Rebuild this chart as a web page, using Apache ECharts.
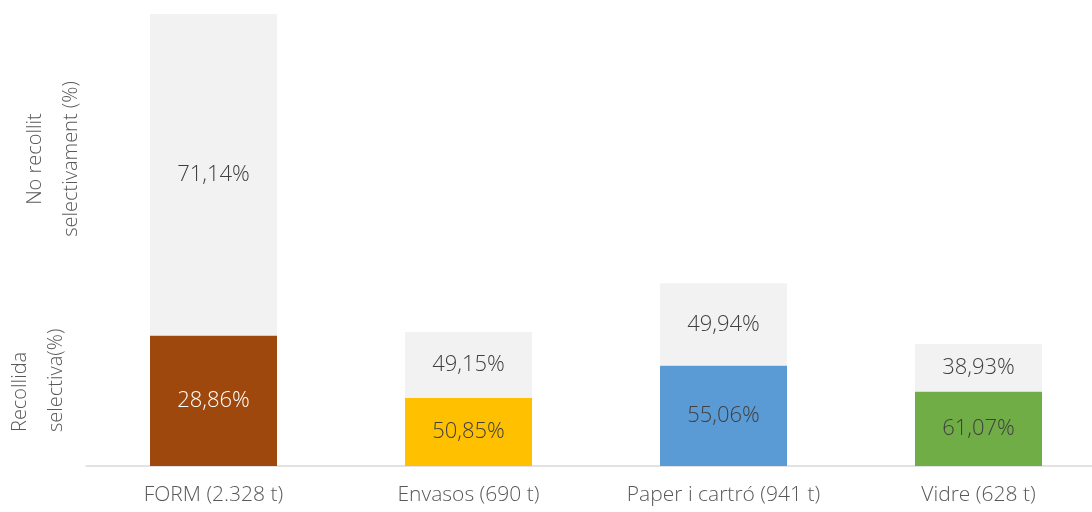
<!DOCTYPE html>
<html>
<head>
<meta charset="utf-8">
<script src="https://cdn.jsdelivr.net/npm/echarts@6/dist/echarts.min.js"></script>
<style>html,body{margin:0;padding:0;background:#fff}#c{width:1092px;height:512px}</style>
</head>
<body>
<div id="c"></div>
<script>
var categories = ['FORM (2.328 t)', 'Envasos (690 t)', 'Paper i cartró (941 t)', 'Vidre (628 t)'];
var totals = [2328, 690, 941, 628];
var collectedPct = [28.86, 50.85, 55.06, 61.07];
var notCollectedPct = [71.14, 49.15, 49.94, 38.93];
var barColors = ['#9E480E', '#FFC000', '#5B9BD5', '#70AD47'];
var collectedLabelColors = ['#FFFFFF', '#404040', '#404040', '#404040'];

var FONT = 'Open Sans';
var WEIGHT = 300;
function fmt(v) { return v.toFixed(2).replace('.', ',') + '%'; }

var collectedData = totals.map(function (t, i) {
  return {
    value: t * collectedPct[i] / 100,
    itemStyle: { color: barColors[i] },
    label: { color: collectedLabelColors[i] }
  };
});
// grey segment fills the rest of each total
var notCollectedData = totals.map(function (t, i) {
  return { value: t - t * collectedPct[i] / 100 };
});

var chart = echarts.init(document.getElementById('c'));
chart.setOption({
  animation: false,
  grid: { left: 86, right: -14, top: 14, bottom: 46, outerBoundsMode: 'none', containLabel: false },
  xAxis: {
    type: 'category',
    data: categories,
    axisLine: { lineStyle: { color: '#D9D9D9', width: 1.5 } },
    axisTick: { show: false },
    axisLabel: { color: '#595959', fontSize: 21, fontFamily: FONT, fontWeight: WEIGHT, margin: 19 }
  },
  yAxis: {
    type: 'value',
    min: 0,
    max: Math.max.apply(null, totals),
    show: false,
    splitLine: { show: false }
  },
  series: [
    {
      type: 'bar', stack: 'total', barWidth: 127,
      data: collectedData,
      label: {
        show: true, position: 'inside', fontSize: 22, fontFamily: FONT, fontWeight: WEIGHT,
        formatter: function (p) { return fmt(collectedPct[p.dataIndex]); }
      }
    },
    {
      type: 'bar', stack: 'total', barWidth: 127,
      data: notCollectedData,
      itemStyle: { color: '#F2F2F2' },
      label: {
        show: true, position: 'inside', fontSize: 22, fontFamily: FONT, fontWeight: WEIGHT, color: '#404040',
        formatter: function (p) { return fmt(notCollectedPct[p.dataIndex]); }
      }
    }
  ],
  graphic: [
    {
      type: 'text', x: 38, y: 432, rotation: Math.PI / 2,
      style: {
        text: 'Recollida\nselectiva(%)', fill: '#595959', fontSize: 20, fontFamily: FONT, fontWeight: WEIGHT,
        align: 'left', verticalAlign: 'middle', lineHeight: 36
      }
    },
    {
      type: 'text', x: 53, y: 159, rotation: Math.PI / 2,
      style: {
        text: 'No recollit\nselectivament (%)', fill: '#595959', fontSize: 20, fontFamily: FONT, fontWeight: WEIGHT,
        align: 'center', verticalAlign: 'middle', lineHeight: 36
      }
    }
  ]
});
</script>
</body>
</html>
